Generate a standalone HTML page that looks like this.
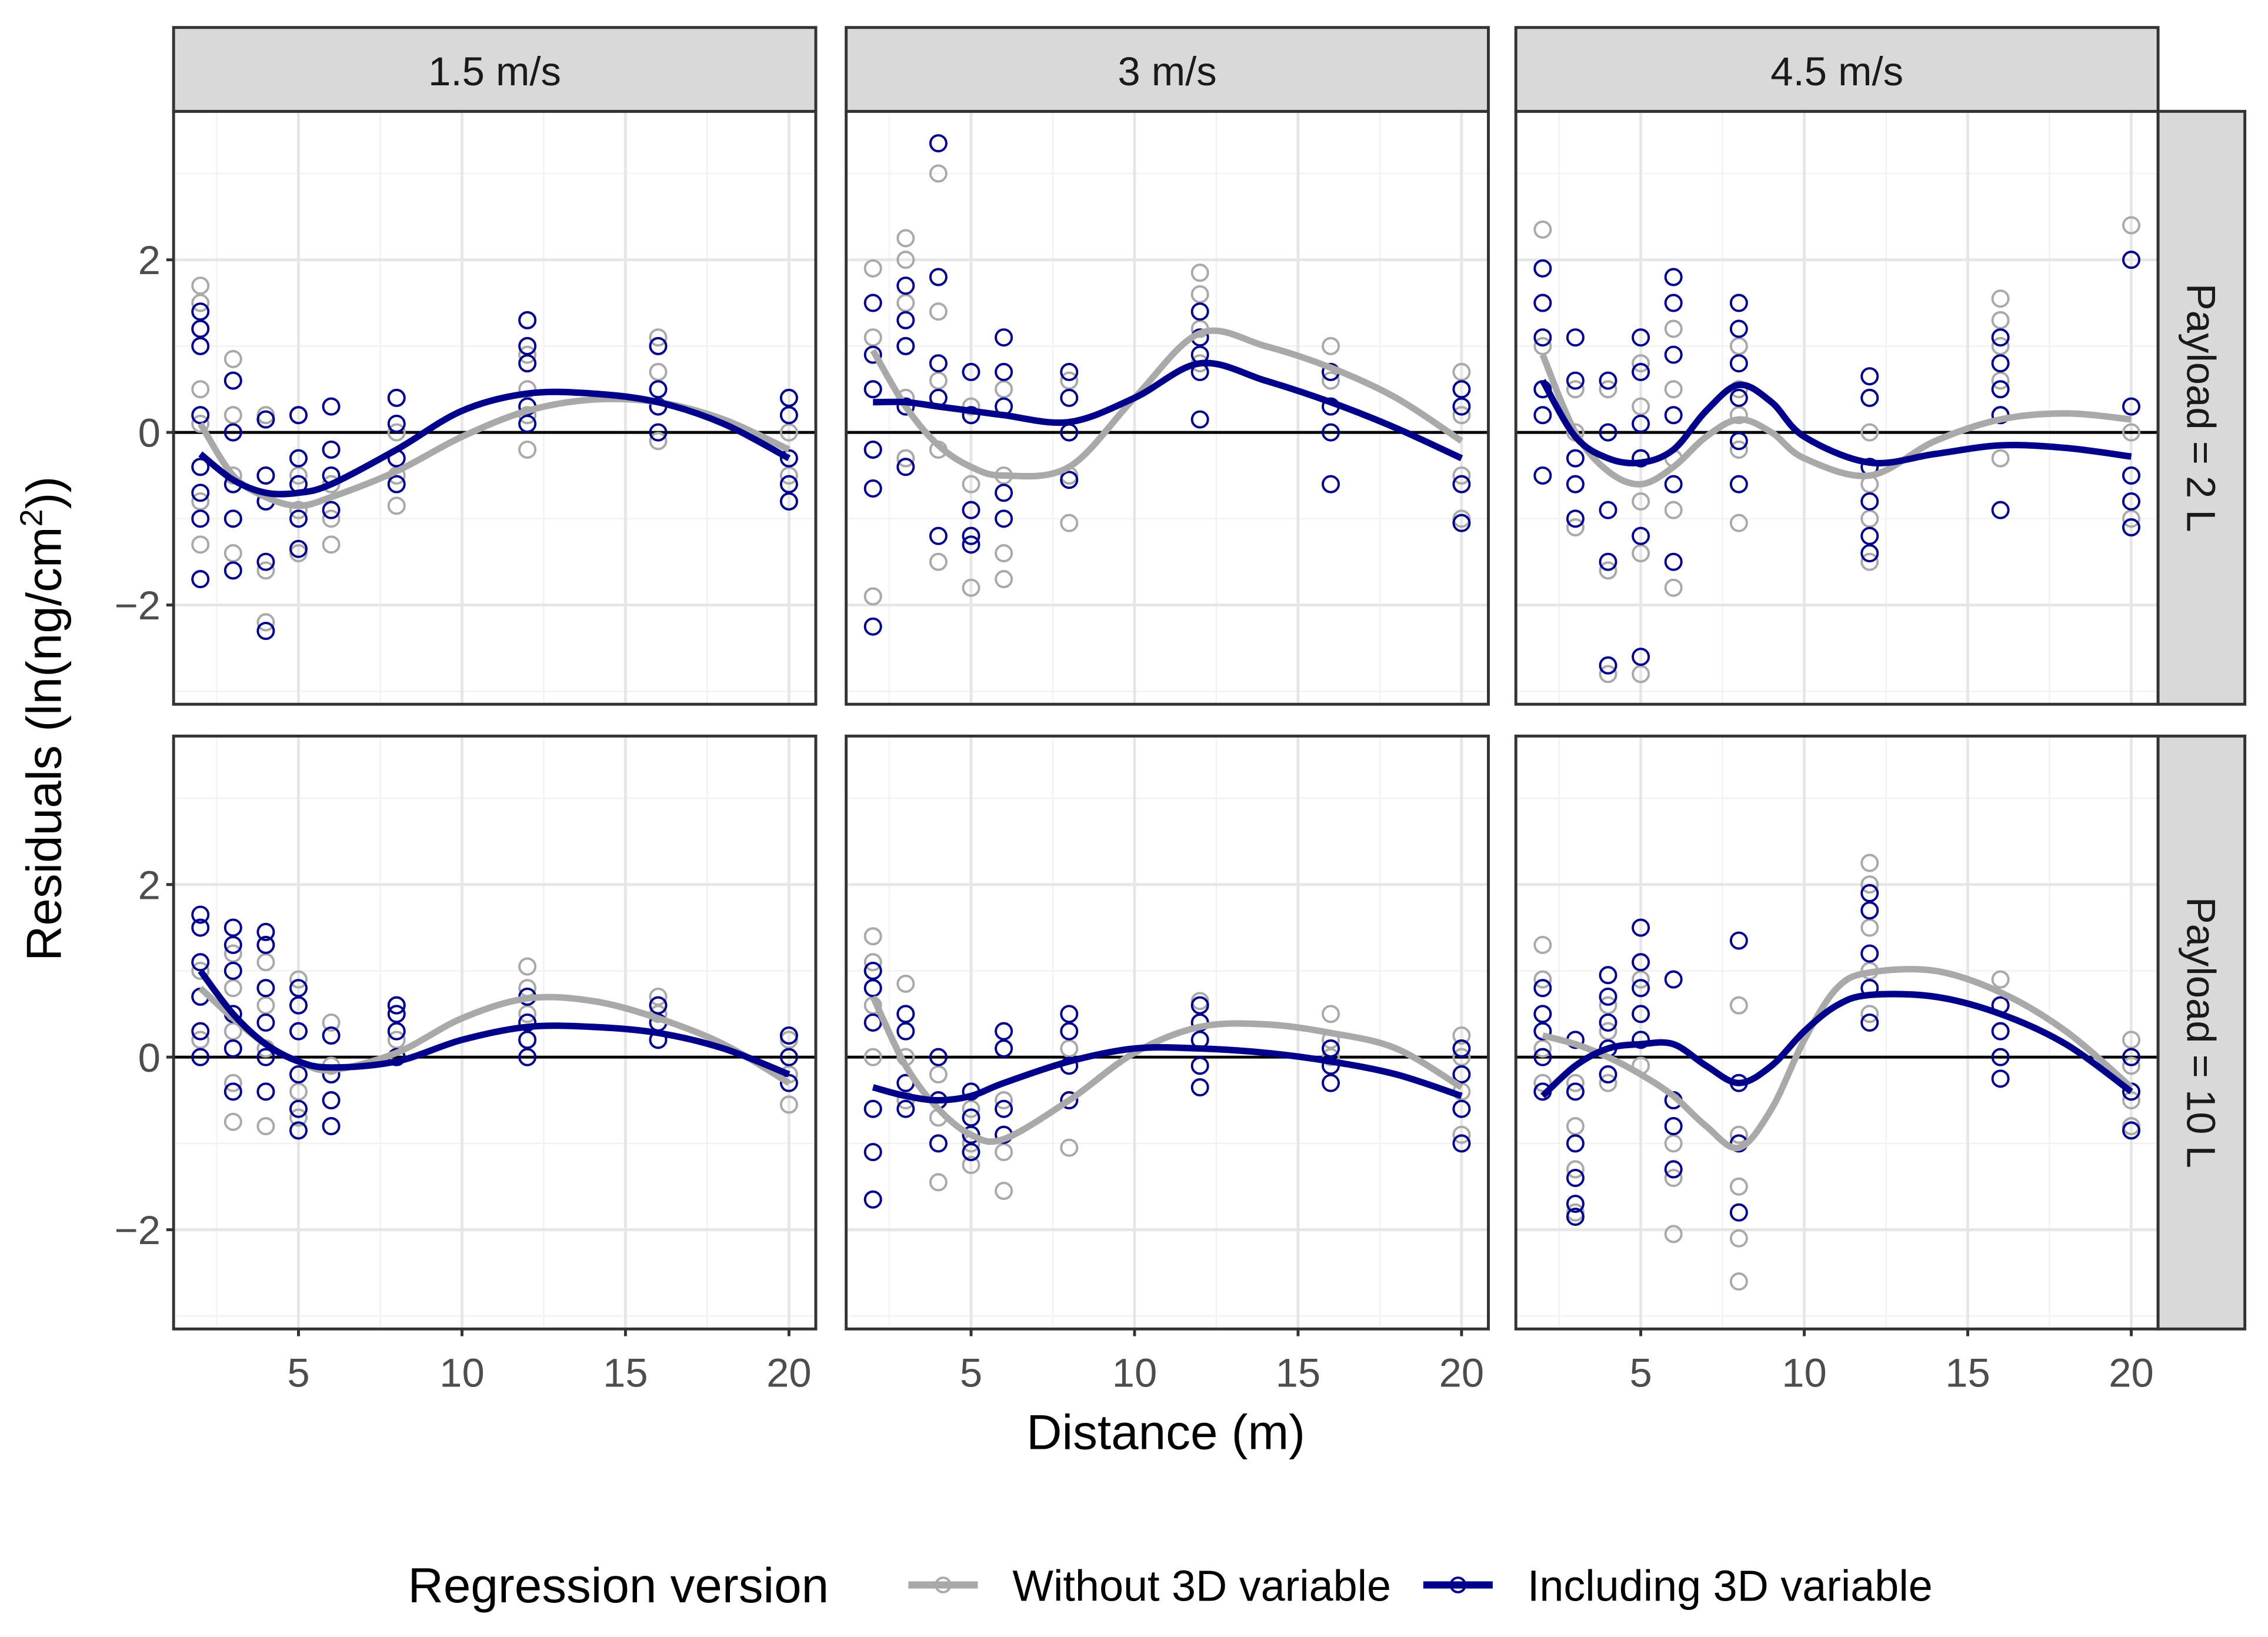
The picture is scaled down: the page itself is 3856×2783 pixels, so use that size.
<!DOCTYPE html>
<html><head><meta charset="utf-8"><style>
html,body{margin:0;padding:0;background:#fff}
svg{display:block}
text{font-family:"Liberation Sans",Arial,sans-serif}
</style></head><body>
<svg id="chart" width="3856" height="2783" viewBox="0 0 1568 1132" preserveAspectRatio="none" xmlns="http://www.w3.org/2000/svg">
<rect x="0" y="0" width="1568" height="1132" fill="#fff"/>
<g id="panels"></g>
<text transform="translate(42,497) rotate(-90)" text-anchor="middle" font-size="34" fill="#000">Residuals (ln(ng/cm<tspan font-size="22" dy="-13">2</tspan><tspan dy="13">))</tspan></text>
<text x="806" y="1002" text-anchor="middle" font-size="34" fill="#000">Distance (m)</text>
<g>
<text x="282" y="1108" font-size="34" fill="#000">Regression version</text>
<g>
<line x1="628" y1="1096" x2="676" y2="1096" stroke="#a9a9a9" stroke-width="5"/>
<circle cx="652" cy="1096" r="5" fill="none" stroke="#a9a9a9" stroke-width="1.6"/>
<text x="700" y="1107" font-size="30" fill="#000">Without 3D variable</text></g>
<g>
<line x1="984" y1="1096" x2="1032" y2="1096" stroke="#00008b" stroke-width="5"/>
<circle cx="1008" cy="1096" r="5" fill="none" stroke="#00008b" stroke-width="1.6"/>
<text x="1056" y="1107" font-size="30" fill="#000">Including 3D variable</text></g>
</g>
</svg>
<script>
const speeds = ["1.5 m/s","3 m/s","4.5 m/s"];
const payloads = ["Payload = 2 L","Payload = 10 L"];
const distances = [2,3,4,5,6,8,12,16,20];
const xTicks = [5,10,15,20];
const yTicks = [-2,0,2];
const grayPts = [
 [[[1.7,1.5,1.2,0.5,0.1,-0.4,-0.8,-1.3,-1.7],[0.85,0.6,0.2,-0.5,-1.0,-1.4],[0.2,-0.5,-0.8,-1.6,-2.2],[0.2,-0.5,-0.9,-1.4],[0.3,-0.2,-0.6,-1.0,-1.3],[0.4,0,-0.5,-0.85],[1.3,0.9,0.5,0.2,-0.2],[1.1,0.7,0.3,-0.1],[0.4,0,-0.5,-0.8]],
  [[1.9,1.1,0.5,-0.2,-1.9],[2.25,2.0,1.5,1.0,0.4,-0.3],[3.0,1.4,0.6,-0.2,-1.5],[0.3,-0.6,-1.2,-1.8],[0.5,-0.5,-1.4,-1.7],[0.6,0,-0.5,-1.05],[1.85,1.6,1.2,0.8],[1.0,0.6,0.3],[0.7,0.2,-0.5,-1.0]],
  [[2.35,1.9,1.5,1.0,0.5],[0.5,0,-0.6,-1.1],[0.5,-1.6,-2.8],[0.8,0.3,-0.3,-0.8,-1.4,-2.8],[1.2,0.5,-0.3,-0.9,-1.8],[1.0,0.5,0.2,-0.2,-1.05],[0.4,0,-0.6,-1.0,-1.5],[1.55,1.3,1.0,0.6,0.2,-0.3],[2.4,0,-0.5,-1.0]]],
 [[[1.0,0.7,0.2],[1.2,0.8,0.3,-0.3,-0.75],[1.3,1.1,0.6,0.1,-0.4,-0.8],[0.9,0.3,-0.4,-0.7],[0.4,-0.1,-0.5],[0.6,0.2,0],[1.05,0.8,0.5,0.2],[0.7,0.5,0.2],[0.2,-0.2,-0.55]],
  [[1.4,1.1,0.6,0,-0.6],[0.85,0.5,0,-0.5],[-0.2,-0.7,-1.45],[-0.6,-1.0,-1.25],[-0.5,-0.9,-1.1,-1.55],[0.1,-0.5,-1.05],[0.65,0.4,0.2],[0.5,0.2,0],[0.25,0,-0.4,-0.9]],
  [[1.3,0.9,0.5,0.1,-0.3],[-0.3,-0.8,-1.3,-1.8],[0.6,0.3,-0.3],[0.9,0.5,-0.1],[-0.5,-1.0,-1.4,-2.05],[0.6,-0.9,-1.5,-2.1,-2.6],[2.25,2.0,1.5,1.0,0.5],[0.9,0.6,0.3],[0.2,-0.1,-0.5,-0.8]]]
];
const bluePts = [
 [[[1.4,1.2,1.0,0.2,-0.4,-0.7,-1.0,-1.7],[0.6,0,-0.6,-1.0,-1.6],[0.15,-0.5,-0.8,-1.5,-2.3],[0.2,-0.3,-0.6,-1.0,-1.35],[0.3,-0.2,-0.5,-0.9],[0.4,0.1,-0.3,-0.6],[1.3,1.0,0.8,0.3,0.1],[1.0,0.5,0.3,0],[0.4,0.2,-0.3,-0.6,-0.8]],
  [[1.5,0.9,0.5,-0.2,-0.65,-2.25],[1.7,1.3,1.0,0.3,-0.4],[3.35,1.8,0.8,0.4,-1.2],[0.7,0.2,-0.9,-1.2,-1.3],[1.1,0.7,0.3,-0.7,-1.0],[0.7,0.4,0,-0.55],[1.4,1.1,0.9,0.7,0.15],[0.7,0.3,0,-0.6],[0.5,0.3,-0.6,-1.05]],
  [[1.9,1.5,1.1,0.5,0.2,-0.5],[1.1,0.6,-0.3,-0.6,-1.0],[0.6,0,-0.9,-1.5,-2.7],[1.1,0.7,0.1,-0.3,-1.2,-2.6],[1.8,1.5,0.9,0.2,-0.6,-1.5],[1.5,1.2,0.8,0.4,-0.1,-0.6],[0.65,0.4,-0.4,-0.8,-1.2,-1.4],[1.1,0.8,0.5,0.2,-0.9],[2.0,0.3,-0.5,-0.8,-1.1]]],
 [[[1.65,1.5,1.1,0.7,0.3,0],[1.5,1.3,1.0,0.5,0.1,-0.4],[1.45,1.3,0.8,0.4,0,-0.4],[0.8,0.6,0.3,-0.2,-0.6,-0.85],[0.25,-0.2,-0.5,-0.8],[0.6,0.5,0.3,0],[0.7,0.4,0.2,0],[0.6,0.4,0.2],[0.25,0,-0.3]],
  [[1.0,0.8,0.4,-0.6,-1.1,-1.65],[0.5,0.3,-0.3,-0.6],[0,-0.5,-1.0],[-0.4,-0.7,-0.9,-1.1],[0.3,0.1,-0.6,-0.9],[0.5,0.3,-0.1,-0.5],[0.6,0.4,0.2,-0.1,-0.35],[0.1,-0.1,-0.3],[0.1,-0.2,-0.6,-1.0]],
  [[0.8,0.5,0.3,0,-0.4],[0.2,-0.4,-1.0,-1.4,-1.7,-1.85],[0.95,0.7,0.4,0.1,-0.2],[1.5,1.1,0.8,0.5,0.2],[0.9,-0.5,-0.8,-1.3],[1.35,-0.3,-1.0,-1.8],[1.9,1.7,1.2,0.8,0.4],[0.6,0.3,0,-0.25],[0,-0.4,-0.85]]]
];
const smoothX = [
 [[2,3,4,5,6,8,10,12,14,16,18,20],[2,3,4,5,6,8,10,12,14,16,18,20],[2,3,4,5,6,7,8,9,10,12,14,16,18,20]],
 [[2,3,4,5,6,8,10,12,14,16,18,20],[2,3,4,5,6,8,10,12,14,16,18,20],[2,3,4,5,6,7,8,9,10,11,12,14,16,18,20]]
];
const graySmooth = [
 [[0.1,-0.5,-0.75,-0.85,-0.75,-0.45,-0.05,0.25,0.38,0.35,0.15,-0.2],[0.95,0.3,-0.15,-0.4,-0.5,-0.4,0.4,1.15,1.0,0.75,0.4,-0.1],[0.9,0,-0.45,-0.6,-0.4,-0.05,0.15,0.0,-0.3,-0.5,-0.1,0.15,0.22,0.15]],
 [[0.8,0.45,0.15,-0.05,-0.15,0.05,0.45,0.68,0.65,0.45,0.15,-0.3],[0.7,-0.1,-0.6,-0.9,-0.95,-0.5,0.05,0.35,0.38,0.28,0.1,-0.35],[0.25,0.15,0,-0.2,-0.45,-0.8,-1.05,-0.6,0.2,0.8,0.98,1.0,0.75,0.3,-0.35]]
];
const blueSmooth = [
 [[-0.25,-0.55,-0.7,-0.7,-0.6,-0.2,0.25,0.45,0.45,0.35,0.1,-0.3],[0.35,0.35,0.3,0.25,0.2,0.12,0.4,0.8,0.6,0.35,0.05,-0.3],[0.6,-0.05,-0.3,-0.35,-0.2,0.25,0.55,0.35,-0.05,-0.35,-0.25,-0.15,-0.18,-0.28]],
 [[1.0,0.5,0.15,-0.05,-0.12,-0.05,0.2,0.35,0.35,0.28,0.1,-0.2],[-0.35,-0.45,-0.5,-0.45,-0.3,-0.05,0.1,0.1,0.05,-0.05,-0.2,-0.45],[-0.45,-0.1,0.1,0.15,0.15,-0.1,-0.3,-0.1,0.3,0.6,0.72,0.7,0.5,0.15,-0.4]]
];

const NS="http://www.w3.org/2000/svg";
const g=document.getElementById('panels');
function mk(tag,attrs,parent){const e=document.createElementNS(NS,tag);for(const k in attrs)e.setAttribute(k,attrs[k]);(parent||g).appendChild(e);return e;}
const colX=[120,585,1048], pw=444;
const rowY=[77,509], ph=410;
const xmin=1.18,xmax=20.82,ymin=-3.15,ymax=3.72;
function catmull(pts){let d="M"+pts[0][0]+","+pts[0][1];for(let i=0;i<pts.length-1;i++){const p0=pts[Math.max(0,i-1)],p1=pts[i],p2=pts[i+1],p3=pts[Math.min(pts.length-1,i+2)];
d+=" C"+(p1[0]+(p2[0]-p0[0])/6)+","+(p1[1]+(p2[1]-p0[1])/6)+" "+(p2[0]-(p3[0]-p1[0])/6)+","+(p2[1]-(p3[1]-p1[1])/6)+" "+p2[0]+","+p2[1];}return d;}
for(let r=0;r<2;r++){for(let c=0;c<3;c++){
 const X0=colX[c],Y0=rowY[r];
 const sx=v=>X0+(v-xmin)/(xmax-xmin)*pw;
 const sy=v=>Y0+(ymax-v)/(ymax-ymin)*ph;
 const pg=mk('g',{});
 
 
 mk('rect',{x:X0,y:Y0,width:pw,height:ph,fill:'#fff'},pg);
 [2.5,7.5,12.5,17.5].forEach(v=>mk('line',{x1:sx(v),x2:sx(v),y1:Y0,y2:Y0+ph,stroke:'#f2f2f2','stroke-width':1},pg));
 [-3,-1,1,3].forEach(v=>mk('line',{x1:X0,x2:X0+pw,y1:sy(v),y2:sy(v),stroke:'#f2f2f2','stroke-width':1},pg));
 xTicks.forEach(v=>mk('line',{x1:sx(v),x2:sx(v),y1:Y0,y2:Y0+ph,stroke:'#e6e6e6','stroke-width':2},pg));
 yTicks.forEach(v=>mk('line',{x1:X0,x2:X0+pw,y1:sy(v),y2:sy(v),stroke:'#e6e6e6','stroke-width':2},pg));
 mk('line',{x1:X0,x2:X0+pw,y1:sy(0),y2:sy(0),stroke:'#000','stroke-width':2},pg);
 distances.forEach((d,i)=>{grayPts[r][c][i].forEach(v=>{const e=mk('circle',{cx:sx(d),cy:sy(v),r:5.5,fill:'none',stroke:'#a9a9a9','stroke-width':1.6},pg);
  
  });});
 distances.forEach((d,i)=>{bluePts[r][c][i].forEach(v=>{const e=mk('circle',{cx:sx(d),cy:sy(v),r:5.5,fill:'none',stroke:'#00008b','stroke-width':1.6},pg);
  
  });});
 const gp=mk('path',{d:catmull(smoothX[r][c].map((x,i)=>[sx(x),sy(graySmooth[r][c][i])])),fill:'none',stroke:'#a9a9a9','stroke-width':4.5},pg);
 
 
 const bp=mk('path',{d:catmull(smoothX[r][c].map((x,i)=>[sx(x),sy(blueSmooth[r][c][i])])),fill:'none',stroke:'#00008b','stroke-width':4.5},pg);
 
 
 mk('rect',{x:X0,y:Y0,width:pw,height:ph,fill:'none',stroke:'#333','stroke-width':2},pg);
 if(c===0){yTicks.forEach(v=>{mk('line',{x1:X0-5,x2:X0,y1:sy(v),y2:sy(v),stroke:'#333','stroke-width':2},pg);
  const t=mk('text',{x:X0-9,y:sy(v)+10,'text-anchor':'end','font-size':28,fill:'#4d4d4d'},pg);t.textContent=(v<0?'\u2212':'')+Math.abs(v);
  
  });}
 if(r===1){xTicks.forEach(v=>{mk('line',{x1:sx(v),x2:sx(v),y1:Y0+ph,y2:Y0+ph+5,stroke:'#333','stroke-width':2},pg);
  const t=mk('text',{x:sx(v),y:Y0+ph+40,'text-anchor':'middle','font-size':28,fill:'#4d4d4d'},pg);t.textContent=v;
  
  });}
 if(r===0){const s=mk('rect',{x:X0,y:19,width:pw,height:58,fill:'#d9d9d9',stroke:'#333','stroke-width':2},pg);
  
  
  const t=mk('text',{x:X0+pw/2,y:59,'text-anchor':'middle','font-size':28,fill:'#1a1a1a'},pg);t.textContent=speeds[c];
  
  }
 if(c===2){const s=mk('rect',{x:X0+pw,y:Y0,width:60,height:ph,fill:'#d9d9d9',stroke:'#333','stroke-width':2},pg);
  
  
  const t=mk('text',{transform:'translate('+(X0+pw+20)+','+(Y0+ph/2)+') rotate(90)','text-anchor':'middle','font-size':28,fill:'#1a1a1a'},pg);t.textContent=payloads[r];
  
  }
}}
</script>
</body></html>
